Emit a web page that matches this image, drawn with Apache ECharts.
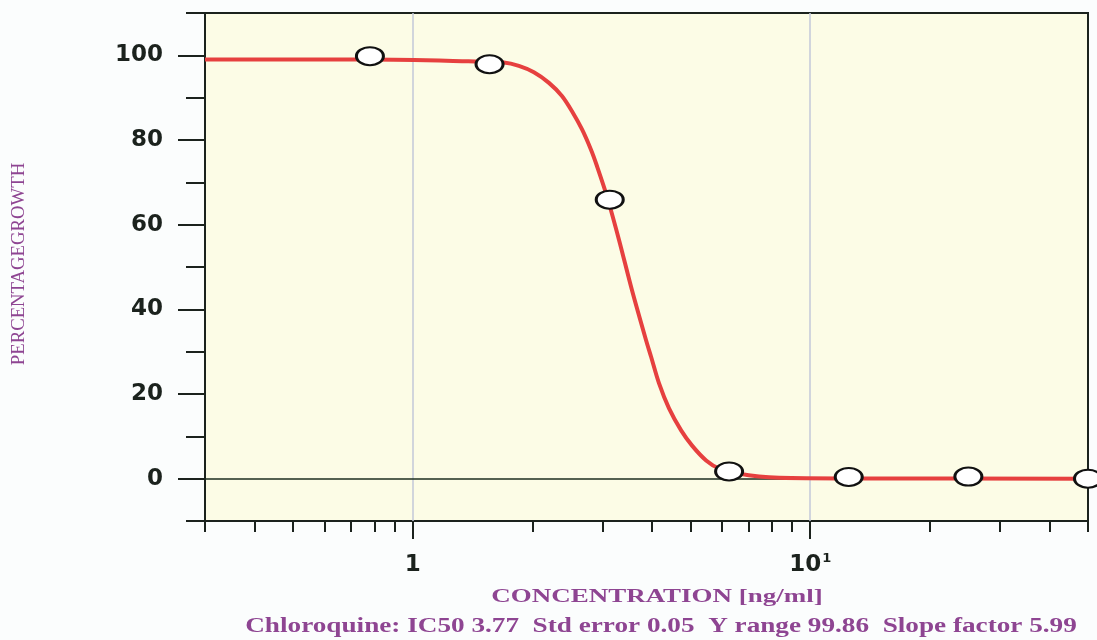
<!DOCTYPE html>
<html>
<head>
<meta charset="utf-8">
<script src="https://cdn.jsdelivr.net/npm/echarts@6/dist/echarts.min.js"></script>
<style>
html,body{margin:0;padding:0;background:#fbfdfd;}
#chart{width:1097px;height:640px;}
</style>
</head>
<body>
<div id="chart"></div>
<script>
// Measured data points (concentration ng/ml, percentage growth)
const pointConc = [0.78, 1.56, 3.13, 6.25, 12.5, 25, 50];
const pointGrowth = [99.8, 97.9, 65.9, 1.7, 0.4, 0.5, 0];

// Fitted curve
const curveConc = [0.3, 0.78, 1.38, 1.695, 1.849, 2.017, 2.201, 2.373, 2.515, 2.666, 2.808, 2.908, 3.082, 3.303, 3.561, 3.863, 3.977, 4.165, 4.413, 4.733, 5.044, 5.471, 5.900, 6.626, 7.437, 8.355, 12, 50];
const curveGrowth = [99.0, 99.0, 98.6, 98.3, 97.5, 96.0, 93.5, 90.4, 86.8, 82.5, 77.7, 73.8, 66.6, 56.4, 44.5, 32.7, 28.8, 22.5, 16.6, 11.4, 7.8, 4.3, 2.4, 1.2, 0.5, 0.2, 0.05, 0];

// Axis ticks and labels
const yLabelValues = [0, 20, 40, 60, 80, 100];
const yMinorTicks = [-10, 10, 30, 50, 70, 90, 110];
const xMajorTicks = [1, 10];
const xMinorTicks = [0.3, 0.4, 0.5, 0.6, 0.7, 0.8, 0.9, 2, 3, 4, 5, 6, 7, 8, 9, 20, 30, 40, 50];
const gridLineValues = [1, 10];

const xTitle = 'CONCENTRATION [ng/ml]';
const yTitle = 'PERCENTAGEGROWTH';
const footer = 'Chloroquine: IC50 3.77  Std error 0.05  Y range 99.86  Slope factor 5.99';

const axisColor = '#1b221d';
const purple = '#8e4592';
const labelFont = 'DejaVu Sans';

const chart = echarts.init(document.getElementById('chart'), null, {renderer: 'canvas'});

const curveData = curveConc.map((c, i) => [c, curveGrowth[i]]);
const pointData = pointConc.map((c, i) => [c, pointGrowth[i]]);

const option = {
  backgroundColor: '#fbfdfd',
  animation: false,
  grid: {
    left: 205, right: 9, top: 13, bottom: 119,
    show: true,
    backgroundColor: '#fcfce6',
    borderColor: axisColor,
    borderWidth: 2
  },
  xAxis: [
    {
      type: 'log', logBase: 10, min: 0.3, max: 50,
      position: 'bottom',
      axisLine: {show: true, onZero: false, lineStyle: {color: axisColor, width: 2}},
      axisTick: {show: true, customValues: xMajorTicks, length: 18, lineStyle: {color: axisColor, width: 2}},
      splitLine: {show: false},
      axisLabel: {
        show: true, customValues: xMajorTicks, margin: 31,
        formatter: function (v) {
          return Math.round(v) === 10 ? '{b|10}{s|1}' : '{b|1}';
        },
        rich: {
          b: {fontSize: 23, lineHeight: 26, fontFamily: labelFont, fontWeight: 'bold', color: axisColor},
          s: {fontSize: 13, lineHeight: 14, fontFamily: labelFont, fontWeight: 'bold', color: axisColor, verticalAlign: 'top', padding: [0, 0, 0, 1]}
        }
      }
    },
    {
      type: 'log', logBase: 10, min: 0.3, max: 50,
      position: 'bottom',
      axisLine: {show: false, onZero: false},
      axisTick: {show: true, customValues: xMinorTicks, length: 11, lineStyle: {color: axisColor, width: 2}},
      splitLine: {show: false},
      axisLabel: {show: false}
    }
  ],
  yAxis: [
    {
      type: 'value', min: -10, max: 110, interval: 10,
      position: 'left',
      axisLine: {show: true, onZero: false, lineStyle: {color: axisColor, width: 2}},
      axisTick: {show: true, customValues: yLabelValues, length: 27, lineStyle: {color: axisColor, width: 2}},
      splitLine: {show: false},
      axisLabel: {
        show: true, customValues: yLabelValues, margin: 42,
        fontSize: 23, fontFamily: labelFont, fontWeight: 'bold', color: axisColor
      }
    },
    {
      type: 'value', min: -10, max: 110, interval: 10,
      position: 'left',
      axisLine: {show: false, onZero: false},
      axisTick: {show: true, customValues: yMinorTicks, length: 19, lineStyle: {color: axisColor, width: 2}},
      splitLine: {show: false},
      axisLabel: {show: false}
    }
  ],
  series: [
    {
      type: 'line',
      xAxisIndex: 0, yAxisIndex: 0,
      data: curveData,
      showSymbol: false,
      smooth: 0.3,
      lineStyle: {color: '#e6403f', width: 4},
      z: 3,
      markLine: {
        silent: true,
        symbol: 'none',
        z: 1,
        label: {show: false},
        data: gridLineValues.map(v => ({xAxis: v, lineStyle: {color: '#c3c9d8', width: 1.5, type: 'solid'}}))
          .concat([{yAxis: 0, lineStyle: {color: '#1d2e1f', width: 1.5, type: 'solid'}}])
      }
    },
    {
      type: 'scatter',
      xAxisIndex: 0, yAxisIndex: 0,
      data: pointData,
      symbol: 'circle',
      symbolSize: [27, 18],
      itemStyle: {color: '#ffffff', borderColor: '#111', borderWidth: 2.5, opacity: 1},
      z: 5
    }
  ],
  graphic: [
    {
      type: 'text', x: 657, y: 597, scaleX: 1.42,
      style: {text: xTitle, font: 'bold 19px "Liberation Serif"', fill: purple, textAlign: 'center', textVerticalAlign: 'middle'}
    },
    {
      type: 'text', x: 661, y: 627, scaleX: 1.36,
      style: {text: footer, font: 'bold 20px "Liberation Serif"', fill: purple, textAlign: 'center', textVerticalAlign: 'middle'}
    },
    {
      type: 'text', x: 19, y: 264, rotation: Math.PI / 2, scaleX: 1.04,
      style: {text: yTitle, font: '18px "Liberation Serif"', fill: purple, textAlign: 'center', textVerticalAlign: 'middle'}
    }
  ]
};

chart.setOption(option);
</script>
</body>
</html>
